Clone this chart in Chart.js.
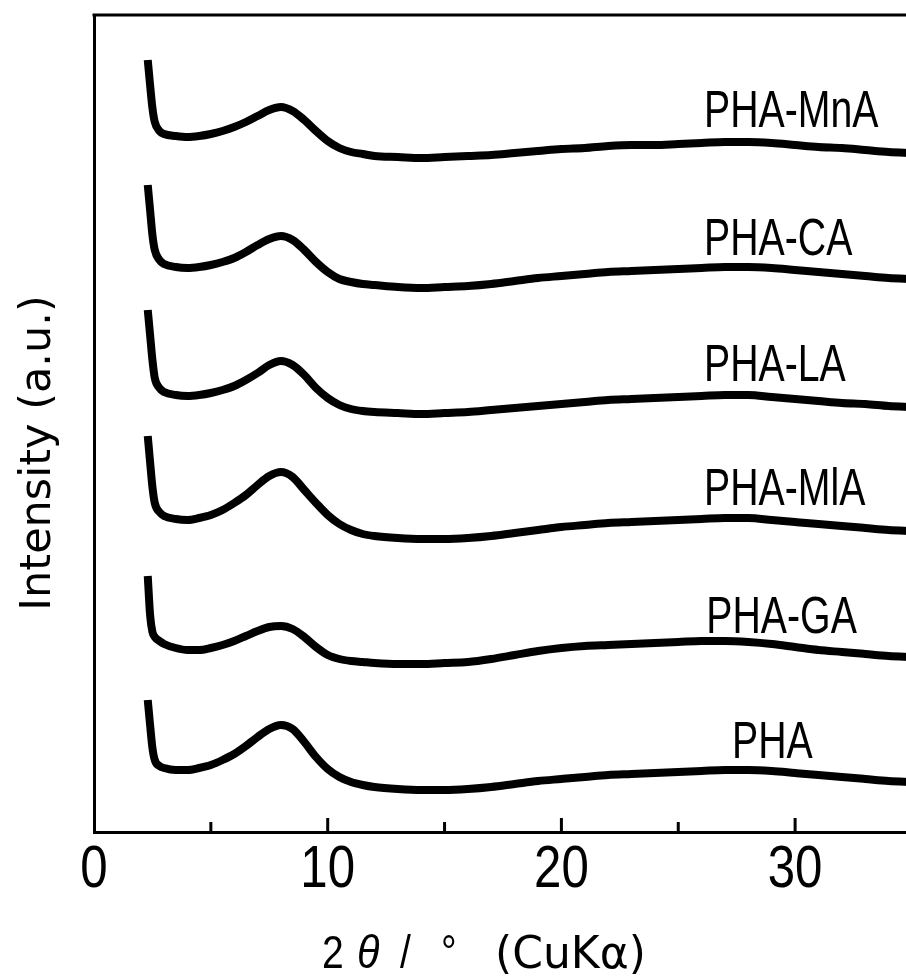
<!DOCTYPE html>
<html>
<head>
<meta charset="utf-8">
<script src="https://cdn.jsdelivr.net/npm/chart.js@4.4.1/dist/chart.umd.min.js"></script>
<style>
  html, body { margin: 0; padding: 0; background: #fff; overflow: hidden; }
  #wrap { width: 940px; height: 978px; }
</style>
</head>
<body>
<div id="wrap"><canvas id="chart" width="940" height="978"></canvas></div>
<script>
// 2theta (deg) where the traces were read
var theta = [2.3, 2.4, 2.5, 2.6, 2.8, 3, 3.5, 4, 4.5, 5, 5.5, 6, 6.5, 7, 7.5, 8, 8.5, 9, 9.5, 10, 10.5, 11, 11.5,
  12, 13, 14, 15, 16, 17, 18, 19, 20, 21, 22, 23, 24, 25, 26, 27, 28, 29, 30, 31, 32, 33, 34, 35, 36];

// intensities (a.u., already stacked with offsets)
var phaMnA = [772, 747, 724, 710, 701, 698, 696, 695, 696, 698, 701, 705, 710, 716, 722, 725, 721, 712, 701, 691, 684, 680, 678,
  676, 675, 674, 675, 676, 677, 679, 681, 683, 684, 686, 687, 687, 688, 689, 690, 690, 689, 687, 685, 684, 682, 680, 679, 678];
var phaCA = [647, 622, 597, 582, 572, 568, 565, 564, 565, 567, 570, 574, 580, 587, 593, 596, 592, 582, 570, 560, 553, 550, 548,
  547, 545, 544, 545, 546, 548, 551, 554, 556, 558, 560, 561, 562, 563, 564, 565, 565, 564, 562, 560, 558, 556, 554, 553, 552];
var phaLA = [522, 497, 472, 454, 444, 440, 437, 436, 437, 439, 442, 446, 452, 459, 467, 471, 467, 457, 444, 434, 427, 423, 421,
  420, 419, 418, 419, 420, 422, 424, 426, 428, 430, 432, 433, 434, 435, 436, 437, 437, 435, 433, 431, 429, 428, 426, 425, 424];
var phaMlA = [396, 370, 345, 329, 320, 316, 313, 312, 314, 317, 322, 329, 337, 347, 356, 360, 355, 342, 329, 317, 308, 302, 298,
  296, 294, 293, 293, 294, 296, 299, 302, 305, 307, 309, 310, 311, 312, 313, 314, 314, 312, 310, 308, 306, 304, 302, 301, 300];
var phaGA = [256, 217, 200, 195, 191, 188, 184, 182, 182, 184, 187, 191, 196, 201, 205, 206, 203, 195, 185, 177, 173, 171, 170,
  169, 168, 168, 169, 170, 173, 177, 181, 184, 186, 187, 188, 189, 190, 191, 191, 190, 188, 185, 182, 180, 178, 176, 175, 174];
var pha = [132, 107, 84, 72, 66, 64, 62, 62, 64, 67, 72, 78, 86, 95, 103, 107, 103, 90, 75, 63, 55, 50, 47,
  45, 43, 42, 42, 43, 45, 48, 51, 53, 55, 57, 58, 59, 60, 61, 62, 62, 61, 59, 57, 55, 53, 51, 50, 49];

var seriesNames = ["PHA-MnA", "PHA-CA", "PHA-LA", "PHA-MlA", "PHA-GA", "PHA"];
var seriesValues = [phaMnA, phaCA, phaLA, phaMlA, phaGA, pha];

var xTickLabels = [0, 10, 20, 30];
var majorTicks = [10, 20, 30];
var minorTicks = [5, 15, 25];

// build datasets as {x, y} points
var datasets = seriesValues.map(function (vals, i) {
  return {
    label: seriesNames[i],
    data: vals.map(function (v, k) { return { x: theta[k], y: v }; }),
    borderColor: "#000",
    borderWidth: 8,
    pointRadius: 0,
    cubicInterpolationMode: "monotone",
    fill: false,
  };
});

// no narrow face installed: squeeze Liberation Sans sideways
function narrowText(c, text, x, y, size, sx, style) {
  c.save();
  c.font = (style ? style + " " : "") + size + "px 'Liberation Sans', Arial, sans-serif";
  c.translate(x, y);
  c.scale(sx, 1);
  c.fillText(text, 0, 0);
  c.restore();
}

// frame top, inward ticks, tick labels, sample names and axis titles
var decor = {
  id: "decor",
  afterDraw: function (chart) {
    var c = chart.ctx, xs = chart.scales.x, ys = chart.scales.y, a = chart.chartArea;
    c.save();
    c.strokeStyle = "#000";
    c.lineWidth = 3;
    c.beginPath();
    c.moveTo(a.left - 1.5, a.top);
    c.lineTo(a.right, a.top);
    c.stroke();

    majorTicks.forEach(function (t) {
      var px = xs.getPixelForValue(t);
      c.beginPath(); c.moveTo(px, a.bottom); c.lineTo(px, a.bottom - 14); c.stroke();
    });
    minorTicks.forEach(function (t) {
      var px = xs.getPixelForValue(t);
      c.beginPath(); c.moveTo(px, a.bottom); c.lineTo(px, a.bottom - 10); c.stroke();
    });

    c.fillStyle = "#000";
    c.textBaseline = "alphabetic";

    // tick labels
    c.textAlign = "center";
    xTickLabels.forEach(function (t) {
      narrowText(c, String(t), xs.getPixelForValue(t), 887, 60, 0.82);
    });

    // names next to each trace (theta, intensity of text baseline)
    var spots = [[26.1, 705], [26.1, 577], [26.1, 451], [26.1, 327], [26.2, 199], [27.3, 74]];
    c.textAlign = "left";
    seriesNames.forEach(function (name, i) {
      narrowText(c, name, xs.getPixelForValue(spots[i][0]), ys.getPixelForValue(spots[i][1]), 51, 0.77);
    });

    // x title: 2θ / °（CuKα）
    narrowText(c, "2", 322, 968, 46, 0.85);
    narrowText(c, "\u03B8", 357, 968, 46, 0.9, "italic");
    narrowText(c, "/", 400, 968, 46, 0.85);
    narrowText(c, "\u00B0", 441, 968, 46, 0.85);
    c.font = "44px 'DejaVu Sans'";
    c.fillText("(CuK\u03B1)", 495, 968);

    // y title
    c.translate(50, 453);
    c.rotate(-Math.PI / 2);
    c.textAlign = "center";
    c.font = "43px 'DejaVu Sans'";
    c.fillText("Intensity (a.u.)", 0, 0);
    c.restore();
  },
};

var ctx = document.getElementById("chart").getContext("2d");

var myChart = new Chart(ctx, {
  type: "line",
  data: { datasets: datasets },
  options: {
    responsive: false,
    animation: false,
    layout: { padding: { top: 15, right: 0, bottom: 0, left: 0 } },
    plugins: { legend: { display: false }, tooltip: { enabled: false } },
    scales: {
      x: {
        type: "linear",
        min: 0,
        max: 36.2,
        afterFit: function (s) { s.height = 146; },
        afterBuildTicks: function (s) {
          s.ticks = xTickLabels.map(function (v) { return { value: v }; });
        },
        grid: { display: false, drawTicks: false },
        border: { display: true, color: "#000", width: 3 },
        ticks: { display: false },
      },
      y: {
        min: 0,
        max: 817,
        afterFit: function (s) { s.width = 94; },
        grid: { display: false, drawTicks: false },
        border: { display: true, color: "#000", width: 3 },
        ticks: { display: false },
      },
    },
  },
  plugins: [decor],
});
</script>
</body>
</html>
